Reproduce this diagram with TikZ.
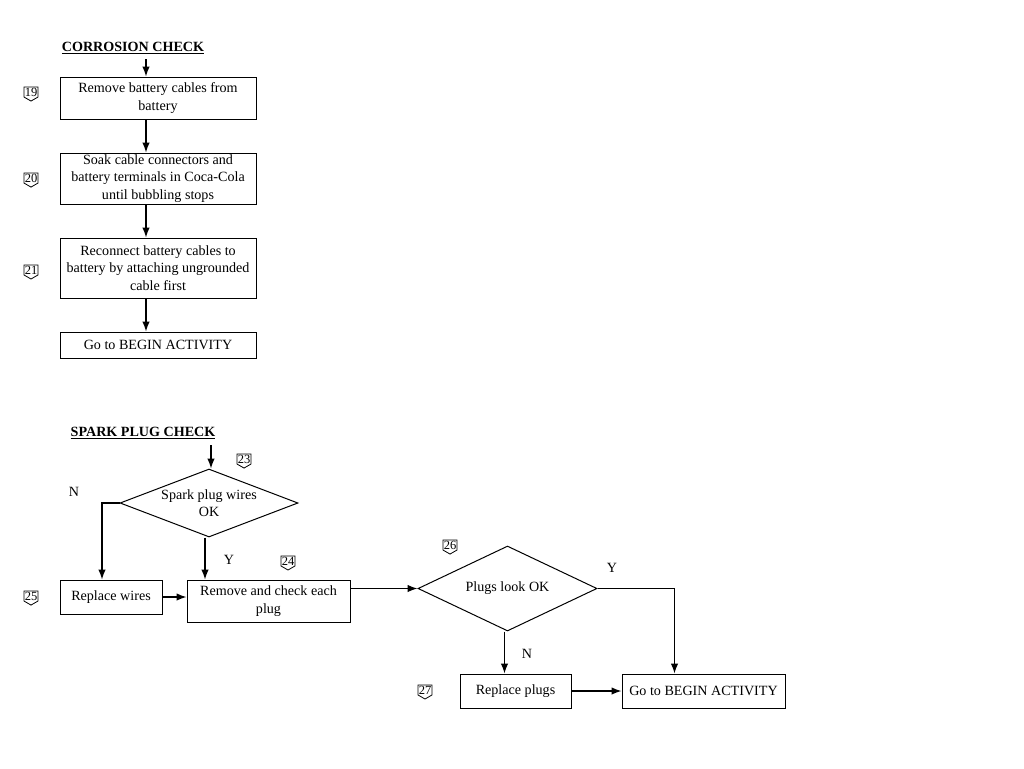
\documentclass[tikz,border=0pt]{standalone}
\usepackage{fontspec}
\setmainfont{Liberation Serif}
\usetikzlibrary{shapes.geometric,shapes.symbols,arrows.meta}

\begin{document}
\begin{tikzpicture}[x=1pt,y=-1pt,>={Latex[length=10pt,width=7.5pt]},line width=1.3pt,
        font=\fontsize{14.1}{17.5}\selectfont,
        box/.style={draw,align=center,inner sep=0pt,line width=1pt},
        ask/.style={draw,diamond,align=center,inner sep=-2pt,line width=1pt},
        tag/.style={draw,signal,signal to=south,signal from=nowhere,signal pointer angle=120,
            inner sep=0.8pt,line width=0.8pt,font=\fontsize{12.5}{12.5}\selectfont},
        title/.style={font=\fontsize{14.1}{17.5}\selectfont\bfseries}]
        \useasboundingbox (0,0) rectangle (1024,768);
        % corrosion check
        \node[title] (corr) at (133,48) {\underline{CORROSION CHECK}};
        \coordinate (in1) at (146,59);
        \node[box,minimum width=196pt,minimum height=42pt] (remove) at (158,98)
            {Remove battery cables from\\battery};
        \node[box,minimum width=196pt,minimum height=51pt] (soak) at (158,178.5)
            {Soak cable connectors and\\battery terminals in Coca-Cola\\until bubbling stops};
        \node[box,minimum width=196pt,minimum height=60pt] (recon) at (158,268)
            {Reconnect battery cables to\\battery by attaching ungrounded\\cable first};
        \node[box,minimum width=196pt,minimum height=26pt] (gotop) at (158,345)
            {Go to BEGIN ACTIVITY};
        \draw[->] (in1)--(in1 |- remove.north);
        \draw[->] (remove.south -| in1)--(soak.north -| in1);
        \draw[->] (soak.south -| in1)--(recon.north -| in1);
        \draw[->] (recon.south -| in1)--(gotop.north -| in1);
        % spark plug check
        \node[title] (spark) at (143,433) {\underline{SPARK PLUG CHECK}};
        \coordinate (in2) at (211,445);
        \node[ask,aspect=2.62,minimum width=178pt,minimum height=68pt] (wires) at (209,503)
            {Spark plug wires\\OK};
        \node[box,minimum width=102pt,minimum height=34pt] (repw) at (111,597) {Replace wires};
        \node[box,minimum width=163pt,minimum height=42pt] (check) at (268.5,601)
            {Remove and check each\\plug};
        \node[ask,aspect=2.1,minimum width=179pt,minimum height=85pt] (plugs) at (507.5,588.5)
            {Plugs look OK};
        \node[box,minimum width=111pt,minimum height=34pt] (repp) at (515.5,691) {Replace plugs};
        \node[box,minimum width=163pt,minimum height=34pt] (gobot) at (703.5,691)
            {Go to BEGIN ACTIVITY};
        \node (n1) at (74,492) {N};
        \node (y1) at (229,560) {Y};
        \node (y2) at (612,568) {Y};
        \node (n2) at (527,654) {N};
        \draw[->] (in2)--(in2 |- wires.north);
        \draw[->] (wires.west)-|([xshift=-9pt]repw.north);
        \draw[->] ([xshift=-4pt]wires.south)--([xshift=-4pt]wires.south |- check.north);
        \draw[->] (repw.east)--(repw.east -| check.west);
        \draw[->] (plugs.west -| check.east)--(plugs.west);
        \draw[->] (plugs.east)-|([xshift=-29pt]gobot.north);
        \draw[->] ([xshift=-3pt]plugs.south)--([xshift=-3pt]plugs.south |- repp.north);
        \draw[->] (repp)--(gobot);
        % step numbers
        \foreach \n/\p in {19/{31,92},20/{31,178},21/{31,270},23/{244,459},
            24/{288,561},25/{31,596},26/{450,545},27/{425,690}}
        {
            \node[tag] (s\n) at (\p) {\n};
        }
\end{tikzpicture}
\end{document}
